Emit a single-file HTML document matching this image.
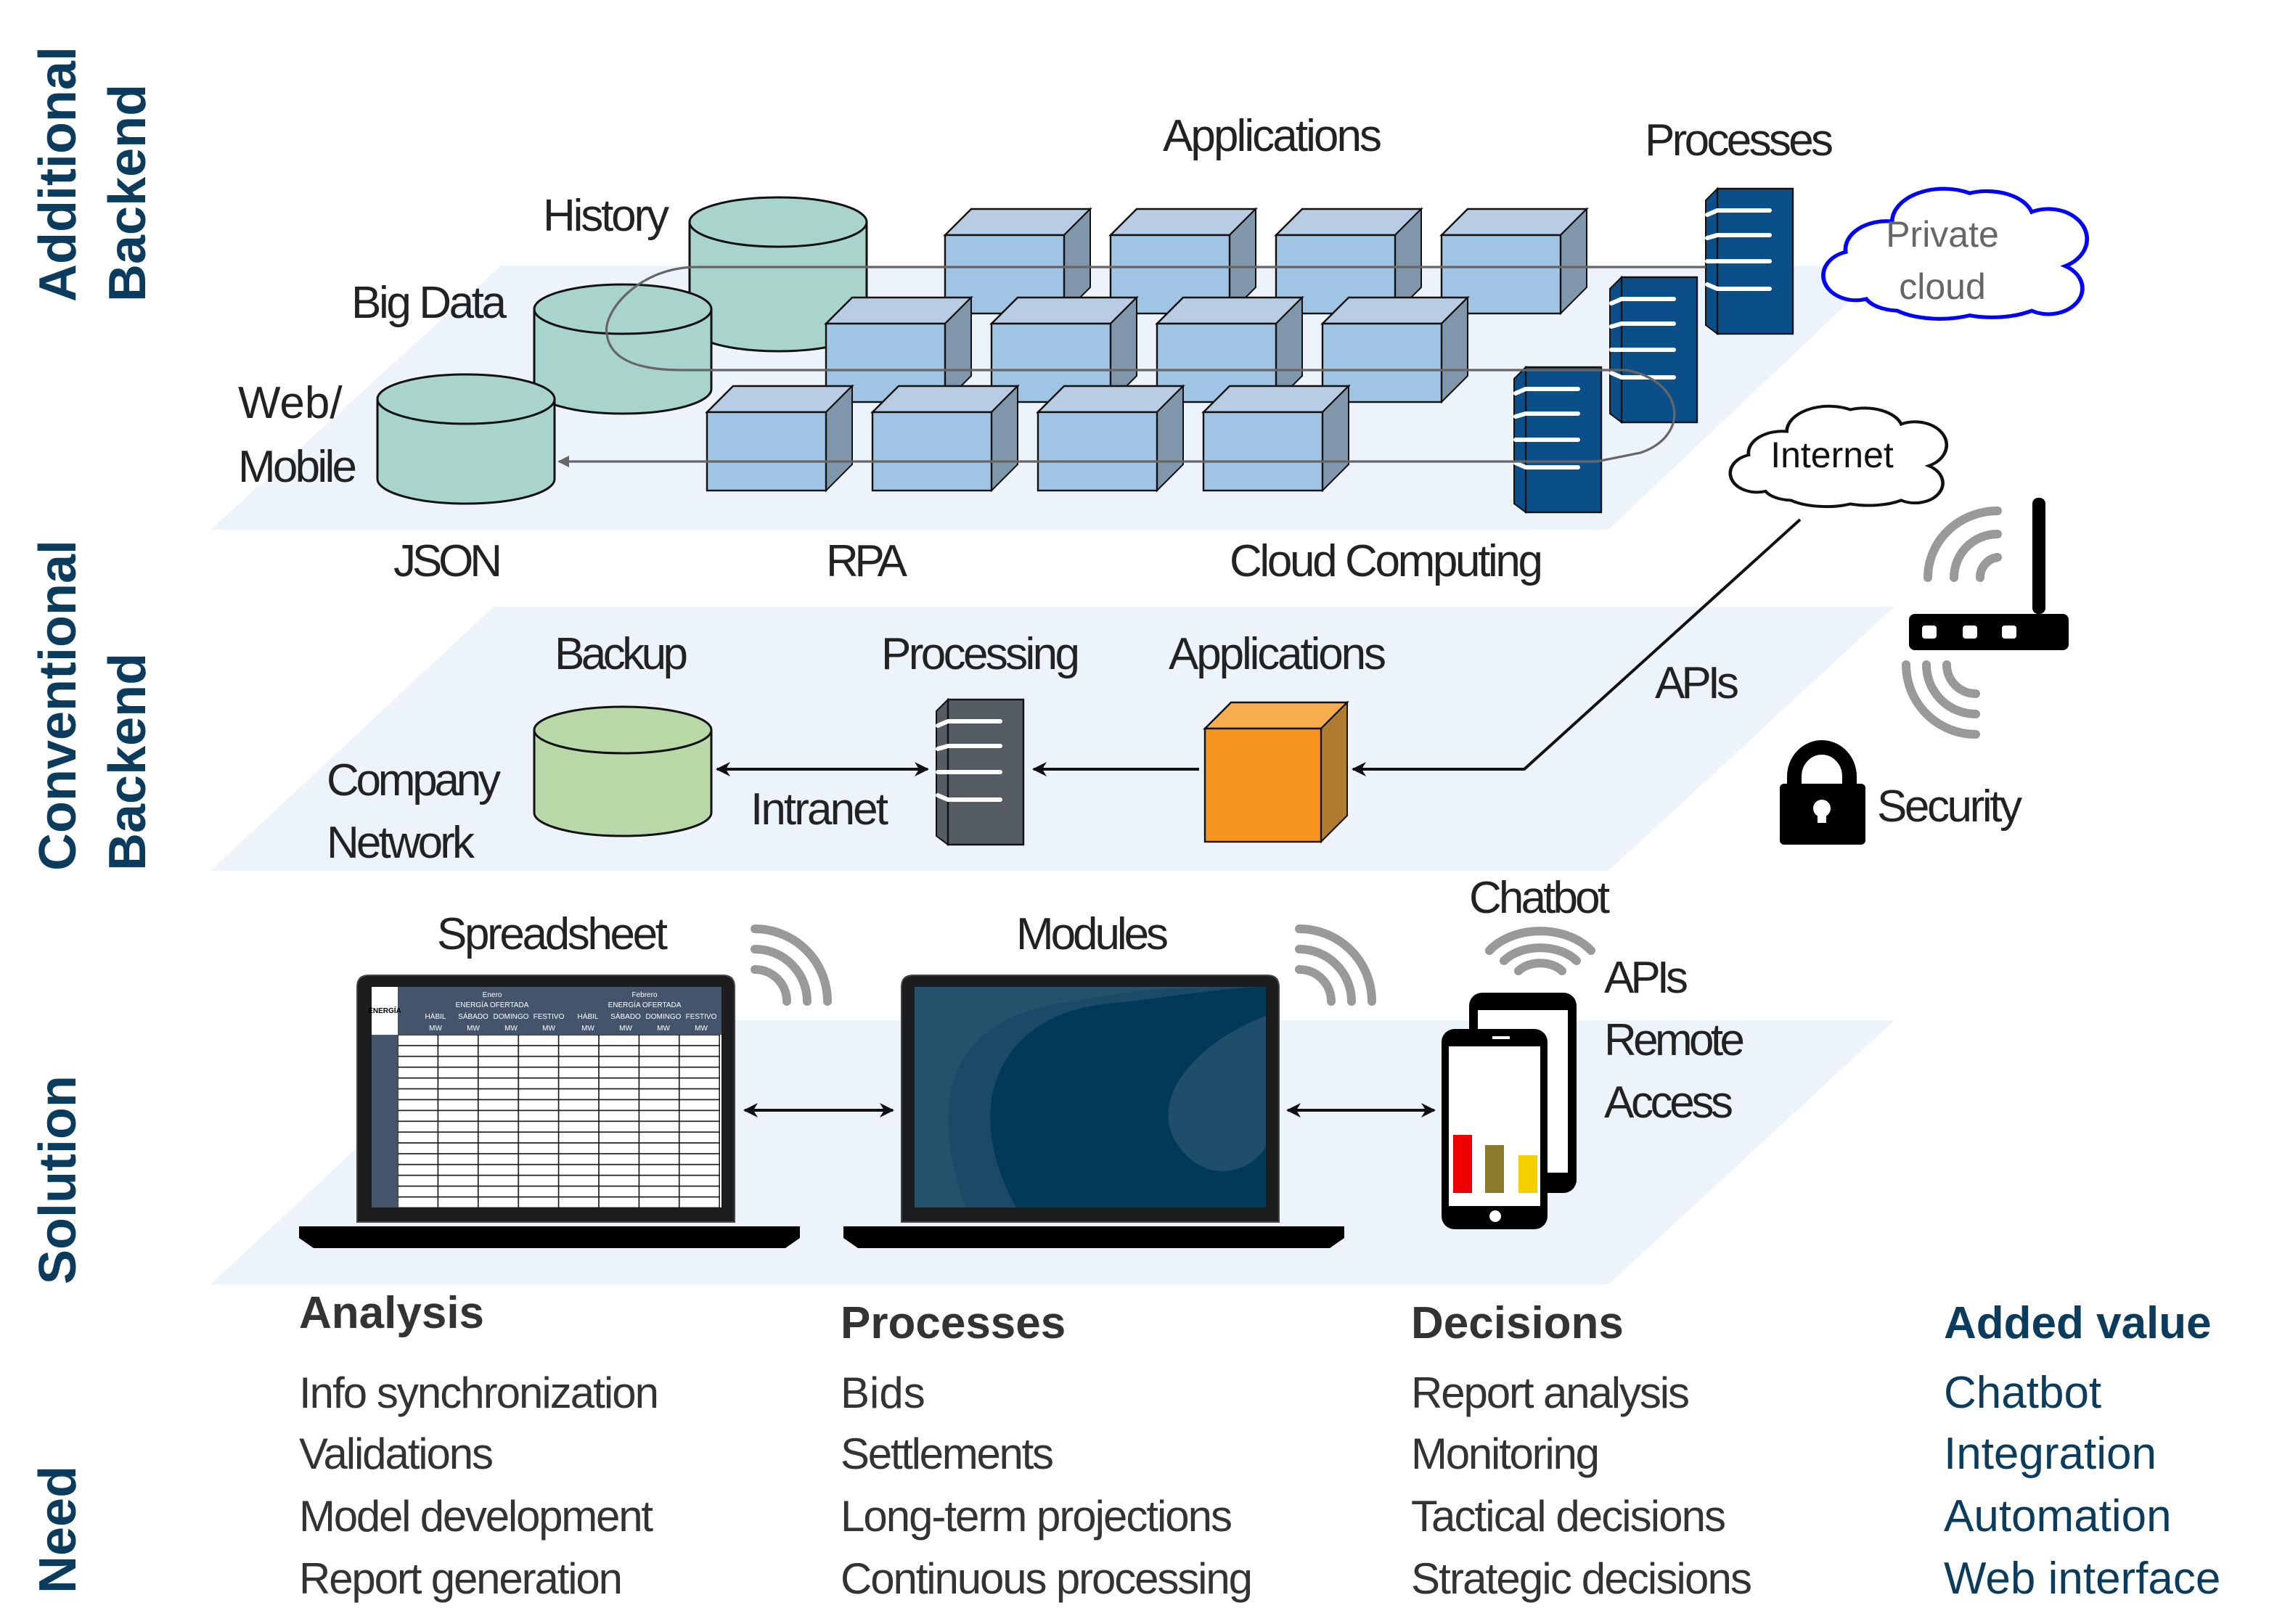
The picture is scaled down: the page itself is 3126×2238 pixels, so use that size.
<!DOCTYPE html>
<html><head><meta charset="utf-8"><style>
html,body{margin:0;padding:0;background:#fff}
svg{display:block}
text{font-family:"Liberation Sans Narrow","Liberation Sans",sans-serif}
.l{font-size:31px;fill:#222}
.h{font-family:"Liberation Sans",sans-serif;font-weight:bold;font-size:31px;fill:#333}
.i{font-family:"Liberation Sans",sans-serif;font-size:30px;fill:#333}
.v{font-family:"Liberation Sans",sans-serif;font-size:31px;fill:#0b3c5d}
.s{font-family:"Liberation Sans",sans-serif;font-weight:bold;font-size:36px;fill:#0b3c5d}
</style></head><body>
<svg width="3126" height="2238" viewBox="0 0 1563 1119" xmlns="http://www.w3.org/2000/svg">
<defs>
<g id="cube">
<polygon points="0,18 18,0 100,0 82,18" fill="#b8cce4" stroke="#111" stroke-width="1.2"/>
<polygon points="82,18 100,0 100,54 82,72" fill="#8096ab" stroke="#111" stroke-width="1"/>
<rect x="0" y="18" width="82" height="54" fill="#a0c4e4" stroke="#111" stroke-width="1.2"/>
</g>
<g id="srv">
<polygon points="0,8 8,0 8,100 0,94" fill="#0b4f8a" stroke="#111" stroke-width="1"/>
<rect x="8" y="0" width="52" height="100" fill="#0b4f8a" stroke="#111" stroke-width="1.2"/>
<g stroke="#fff" stroke-width="3" stroke-linecap="round" fill="none">
<path d="M1,18 L8,15 H44"/><path d="M1,34 L8,32 H44"/><path d="M1,50 L8,50 H44"/><path d="M1,66 L8,69 H44"/>
</g>
</g>
<g id="wifi" fill="none" stroke="#999" stroke-width="6" stroke-linecap="round">
<path d="M2,2 A50,50 0 0 1 52,52"/><path d="M2,16 A36,36 0 0 1 38,52"/><path d="M2,30 A22,22 0 0 1 24,52"/>
</g>
<pattern id="grid" x="274" y="713" width="27.7" height="7.45" patternUnits="userSpaceOnUse">
<rect width="27.7" height="7.45" fill="#fff" stroke="#111" stroke-width="0.8"/>
</pattern>
<marker id="ah" markerWidth="10" markerHeight="10" refX="9" refY="5" orient="auto" markerUnits="userSpaceOnUse"><path d="M0,0 L10,5 L0,10 L3,5Z" fill="#111"/></marker>
<marker id="ahs" markerWidth="10" markerHeight="10" refX="1" refY="5" orient="auto" markerUnits="userSpaceOnUse"><path d="M10,0 L0,5 L10,10 L7,5Z" fill="#111"/></marker>
<marker id="ag" markerWidth="8" markerHeight="8" refX="7" refY="4" orient="auto" markerUnits="userSpaceOnUse"><path d="M0,0 L8,4 L0,8Z" fill="#666"/></marker>
</defs>

<!-- planes -->
<polygon points="145,365 1108,365 1300,183 345,183" fill="#edf3fa"/>
<polygon points="145,600 1108,600 1305,418 340,418" fill="#edf3fa"/>
<polygon points="145,885 1108,885 1305,703 340,703" fill="#edf3fa"/>

<!-- side labels -->
<text class="s" transform="translate(52,208) rotate(-90)">Additional</text>
<text class="s" transform="translate(100,208) rotate(-90)">Backend</text>
<text class="s" transform="translate(52,600) rotate(-90)">Conventional</text>
<text class="s" transform="translate(100,600) rotate(-90)">Backend</text>
<text class="s" transform="translate(52,885) rotate(-90)">Solution</text>
<text class="s" transform="translate(52,1098) rotate(-90)">Need</text>

<!-- cylinders top -->
<g stroke="#111" stroke-width="1.5" fill="#a9d4cc">
<path d="M475,153 V225 A61,17 0 0 0 597,225 V153"/>
<ellipse cx="536" cy="153" rx="61" ry="17"/>
<path d="M368,213 V268 A61,17 0 0 0 490,268 V213"/>
<ellipse cx="429" cy="213" rx="61" ry="17"/>
<path d="M260,275 V330 A61,17 0 0 0 382,330 V275"/>
<ellipse cx="321" cy="275" rx="61" ry="17"/>
</g>

<!-- cubes -->
<use href="#cube" x="651" y="144"/><use href="#cube" x="765" y="144"/><use href="#cube" x="879" y="144"/><use href="#cube" x="993" y="144"/>
<use href="#cube" x="569" y="205"/><use href="#cube" x="683" y="205"/><use href="#cube" x="797" y="205"/><use href="#cube" x="911" y="205"/>
<use href="#cube" x="487" y="266"/><use href="#cube" x="601" y="266"/><use href="#cube" x="715" y="266"/><use href="#cube" x="829" y="266"/>

<!-- servers -->
<use href="#srv" x="1175" y="130"/>
<use href="#srv" x="1109" y="191"/>
<use href="#srv" x="1043" y="253"/>

<!-- loop line -->
<path d="M1175,184 H480 C440,184 415,215 418,230 C420,248 440,255 470,255 H1120 C1160,262 1165,300 1130,312 L1100,318 H385" fill="none" stroke="#666" stroke-width="1.6" marker-end="url(#ag)"/>

<!-- clouds -->
<path transform="translate(1250,125) scale(1.78,1.62)" d="M20,50 A12,10 0 0 1 12,30 A16,12 0 0 1 30,17 A20,14 0 0 1 60,5 A18,12 0 0 1 84,13 A14,12 0 0 1 97,36 A12,10 0 0 1 84,55 A22,10 0 0 1 60,57 A22,10 0 0 1 32,55 A14,8 0 0 1 20,50Z" fill="#fff" stroke="#00f" stroke-width="1.6"/>
<text x="1338" y="170" text-anchor="middle" style="font-family:'Liberation Sans',sans-serif;font-size:25px;fill:#666">Private</text>
<text x="1338" y="206" text-anchor="middle" style="font-family:'Liberation Sans',sans-serif;font-size:25px;fill:#666">cloud</text>
<path transform="translate(1187,276) scale(1.46,1.25)" d="M20,50 A12,10 0 0 1 12,30 A16,12 0 0 1 30,17 A20,14 0 0 1 60,5 A18,12 0 0 1 84,13 A14,12 0 0 1 97,36 A12,10 0 0 1 84,55 A22,10 0 0 1 60,57 A22,10 0 0 1 32,55 A14,8 0 0 1 20,50Z" fill="#fff" stroke="#111" stroke-width="1.6"/>
<text x="1262" y="322" text-anchor="middle" style="font-family:'Liberation Sans',sans-serif;font-size:25px;fill:#111">Internet</text>

<!-- top labels -->
<text class="l" x="801" y="104" textLength="151">Applications</text>
<text class="l" x="1133" y="107" textLength="130">Processes</text>
<text class="l" x="374" y="159" textLength="87">History</text>
<text class="l" x="242" y="219" textLength="107">Big Data</text>
<text class="l" x="164" y="288">Web/</text>
<text class="l" x="164" y="332" textLength="82">Mobile</text>
<text class="l" x="271" y="397" textLength="75">JSON</text>
<text class="l" x="569" y="397" textLength="56">RPA</text>
<text class="l" x="847" y="397" textLength="216">Cloud Computing</text>

<!-- router -->
<rect x="1400" y="343" width="9" height="80" rx="4" fill="#000"/>
<rect x="1315" y="423" width="110" height="25" rx="4" fill="#000"/>
<rect x="1324" y="431" width="10" height="9" rx="2" fill="#fff"/><rect x="1352" y="431" width="10" height="9" rx="2" fill="#fff"/><rect x="1379" y="431" width="10" height="9" rx="2" fill="#fff"/>
<g fill="none" stroke="#999" stroke-width="6" stroke-linecap="round">
<path d="M1328,398 A48,46 0 0 1 1376,352"/><path d="M1346,398 A30,30 0 0 1 1376,368"/><path d="M1364,398 A14,14 0 0 1 1376,384"/>
<path d="M1313,458 A48,48 0 0 0 1361,506"/><path d="M1327,458 A34,34 0 0 0 1361,492"/><path d="M1341,458 A20,20 0 0 0 1361,478"/>
</g>
<!-- lock -->
<path d="M1236,545 V535 A19,20 0 0 1 1274,535 V545" fill="none" stroke="#000" stroke-width="10"/>
<rect x="1226" y="540" width="59" height="42" rx="3" fill="#000"/>
<circle cx="1255" cy="557" r="6" fill="#fff"/><rect x="1252" y="557" width="6" height="10" fill="#fff"/>
<text class="l" x="1293" y="566" textLength="100" style="font-family:'Liberation Sans',sans-serif">Security</text>

<!-- APIs line -->
<path d="M1240,358 L1050,530 H932" fill="none" stroke="#111" stroke-width="2" marker-end="url(#ah)"/>
<text class="l" x="1140" y="481" textLength="58" style="font-family:'Liberation Sans',sans-serif">APIs</text>

<!-- middle -->
<text class="l" x="382" y="461" textLength="92">Backup</text>
<text class="l" x="607" y="461" textLength="137">Processing</text>
<text class="l" x="805" y="461" textLength="150">Applications</text>
<text class="l" x="225" y="548" textLength="120">Company</text>
<text class="l" x="225" y="591" textLength="102">Network</text>
<text class="l" x="517" y="568" textLength="95">Intranet</text>
<g stroke="#111" stroke-width="1.5" fill="#b9d8a8">
<path d="M368,503 V560 A61,16 0 0 0 490,560 V503"/>
<ellipse cx="429" cy="503" rx="61" ry="16"/>
</g>
<line x1="494" y1="530" x2="639" y2="530" stroke="#111" stroke-width="2" marker-start="url(#ahs)" marker-end="url(#ah)"/>
<polygon points="645,490 653,482 653,582 645,576" fill="#555c63" stroke="#111"/>
<rect x="653" y="482" width="52" height="100" fill="#555c63" stroke="#111" stroke-width="1.2"/>
<g stroke="#fff" stroke-width="3" stroke-linecap="round" fill="none"><path d="M646,500 L653,497 H689"/><path d="M646,516 L653,514 H689"/><path d="M646,532 L653,532 H689"/><path d="M646,548 L653,551 H689"/></g>
<line x1="826" y1="530" x2="712" y2="530" stroke="#111" stroke-width="2" marker-end="url(#ah)"/>
<polygon points="830,502 848,484 928,484 910,502" fill="#f8ae4f" stroke="#111" stroke-width="1.2"/>
<polygon points="910,502 928,484 928,562 910,580" fill="#b07c30" stroke="#111"/>
<rect x="830" y="502" width="80" height="78" fill="#f59520" stroke="#111" stroke-width="1.2"/>

<!-- bottom labels -->
<text class="l" x="301" y="654" textLength="159">Spreadsheet</text>
<text class="l" x="700" y="654" textLength="105">Modules</text>
<text class="l" x="1012" y="629" textLength="97">Chatbot</text>
<text class="l" x="1105" y="684" textLength="58">APIs</text>
<text class="l" x="1105" y="727" textLength="97">Remote</text>
<text class="l" x="1105" y="770" textLength="89">Access</text>
<g transform="translate(518,638)"><use href="#wifi"/></g>
<g transform="translate(893,638)"><use href="#wifi"/></g>
<g fill="none" stroke="#999" stroke-width="6" stroke-linecap="round">
<path d="M1026,655 A42,30 0 0 1 1096,655"/><path d="M1036,662 A30,20 0 0 1 1086,662"/><path d="M1046,669 A18,12 0 0 1 1076,669"/>
</g>

<!-- laptop 1 -->
<path d="M246,842 V680 Q246,672 254,672 H498 Q506,672 506,680 V842Z" fill="#1c1d1f" stroke="#444"/>
<rect x="256" y="680" width="241" height="152" fill="#fff"/>
<rect x="274" y="680" width="223" height="33" fill="#44546a"/>
<rect x="256" y="713" width="18" height="119" fill="#44546a"/>
<rect x="274" y="713" width="222" height="119" fill="url(#grid)"/>
<g style="font-family:'Liberation Sans',sans-serif;font-size:5px;fill:#fff" text-anchor="middle">
<text x="339" y="687">Enero</text><text x="444" y="687">Febrero</text>
<text x="339" y="694">ENERGÍA OFERTADA</text><text x="444" y="694">ENERGÍA OFERTADA</text>
<text x="300" y="702">HÁBIL</text><text x="326" y="702">SÁBADO</text><text x="352" y="702">DOMINGO</text><text x="378" y="702">FESTIVO</text>
<text x="405" y="702">HÁBIL</text><text x="431" y="702">SÁBADO</text><text x="457" y="702">DOMINGO</text><text x="483" y="702">FESTIVO</text>
<text x="300" y="710">MW</text><text x="326" y="710">MW</text><text x="352" y="710">MW</text><text x="378" y="710">MW</text><text x="405" y="710">MW</text><text x="431" y="710">MW</text><text x="457" y="710">MW</text><text x="483" y="710">MW</text>
</g>
<text x="265" y="698" text-anchor="middle" style="font-family:'Liberation Sans',sans-serif;font-size:5px;font-weight:bold;fill:#000">ENERGÍA</text>
<polygon points="206,845 551,845 551,853 541,860 216,860 206,853" fill="#000"/>
<!-- laptop 2 -->
<path d="M621,842 V680 Q621,672 629,672 H873 Q881,672 881,680 V842Z" fill="#1c1d1f" stroke="#444"/>
<rect x="630" y="680" width="242" height="152" fill="#24516c"/>
<path d="M665,832 C640,760 650,700 740,690 C790,680 820,680 872,680 V832Z" fill="#1b4a66"/>
<path d="M700,832 C660,760 690,700 760,692 C800,688 845,680 872,680 V832Z" fill="#003a58"/>
<path d="M872,700 C820,720 790,760 812,790 C830,815 860,810 872,790Z" fill="#1f4e6a"/>
<polygon points="581,845 926,845 926,853 916,860 591,860 581,853" fill="#000"/>

<line x1="513" y1="765" x2="615" y2="765" stroke="#111" stroke-width="2" marker-start="url(#ahs)" marker-end="url(#ah)"/>
<line x1="887" y1="765" x2="988" y2="765" stroke="#111" stroke-width="2" marker-start="url(#ahs)" marker-end="url(#ah)"/>

<!-- phones -->
<rect x="1012" y="684" width="74" height="138" rx="9" fill="#000"/>
<rect x="1018" y="696" width="62" height="112" fill="#fff"/>
<rect x="993" y="709" width="73" height="138" rx="9" fill="#000"/>
<rect x="998" y="721" width="63" height="110" fill="#fff"/>
<circle cx="1030" cy="838" r="4" fill="#fff"/>
<rect x="1028" y="714" width="12" height="2" fill="#fff"/>
<rect x="1001" y="782" width="13" height="40" fill="#e00"/>
<rect x="1023" y="789" width="13" height="33" fill="#8b7a2a"/>
<rect x="1046" y="796" width="13" height="26" fill="#f5d000"/>

<!-- needs -->
<text class="h" x="206" y="915">Analysis</text>
<text class="i" x="206" y="970" textLength="248">Info synchronization</text>
<text class="i" x="206" y="1012" textLength="134">Validations</text>
<text class="i" x="206" y="1055" textLength="244">Model development</text>
<text class="i" x="206" y="1098" textLength="223">Report generation</text>
<text class="h" x="579" y="922">Processes</text>
<text class="i" x="579" y="970">Bids</text>
<text class="i" x="579" y="1012" textLength="147">Settlements</text>
<text class="i" x="579" y="1055" textLength="270">Long-term projections</text>
<text class="i" x="579" y="1098" textLength="284">Continuous processing</text>
<text class="h" x="972" y="922">Decisions</text>
<text class="i" x="972" y="970" textLength="192">Report analysis</text>
<text class="i" x="972" y="1012" textLength="130">Monitoring</text>
<text class="i" x="972" y="1055" textLength="217">Tactical decisions</text>
<text class="i" x="972" y="1098" textLength="235">Strategic decisions</text>
<text class="h" x="1339" y="922" style="fill:#0b3c5d">Added value</text>
<text class="v" x="1339" y="970">Chatbot</text>
<text class="v" x="1339" y="1012">Integration</text>
<text class="v" x="1339" y="1055">Automation</text>
<text class="v" x="1339" y="1098">Web interface</text>
</svg>
</body></html>
